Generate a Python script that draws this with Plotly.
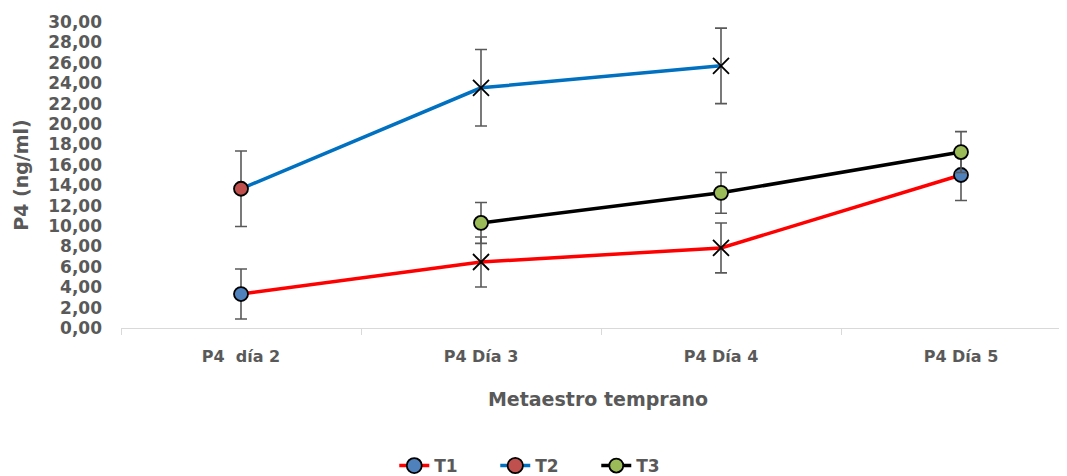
import plotly.graph_objects as go

categories = ["P4  día 2", "P4 Día 3", "P4 Día 4", "P4 Día 5"]

t1_x = categories
t1_y = [3.33, 6.47, 7.85, 15.0]
t1_err = [2.45, 2.45, 2.45, 2.5]
t1_sym = ["circle", "x-thin", "x-thin", "circle"]

t2_x = categories[:3]
t2_y = [13.65, 23.55, 25.7]
t2_err = [3.7, 3.75, 3.7]
t2_sym = ["circle", "x-thin", "x-thin"]

t3_x = categories[1:]
t3_y = [10.3, 13.25, 17.25]
t3_err = [2.0, 2.0, 2.0]
t3_sym = ["circle", "circle", "circle"]

FONT = "DejaVu Sans"
GRAY = "#595959"

fig = go.Figure()

def add(name, x, y, err, syms, line_color, fill):
    fig.add_trace(go.Scatter(
        x=x, y=y, name=name, mode="lines+markers",
        line=dict(color=line_color, width=3.5),
        marker=dict(symbol=syms, size=[14 if s == "circle" else 16 for s in syms],
                    color=fill, opacity=1, line=dict(color="black", width=1.8)),
        error_y=dict(type="data", array=err, visible=True,
                     color=GRAY, thickness=1.6, width=6),
    ))

add("T1", t1_x, t1_y, t1_err, t1_sym, "#FF0000", "#4F81BD")
add("T2", t2_x, t2_y, t2_err, t2_sym, "#0070C0", "#C0504D")
add("T3", t3_x, t3_y, t3_err, t3_sym, "#000000", "#9BBB59")

fig.update_layout(
    width=1067, height=476,
    margin=dict(l=113, r=0, t=14, b=156),
    paper_bgcolor="white", plot_bgcolor="white",
    separators=",.",
    font=dict(family=FONT, color=GRAY),
    showlegend=True,
    legend=dict(orientation="h", xref="container", yref="container",
                x=0.504, y=-0.008, xanchor="center", yanchor="bottom",
                font=dict(family=FONT, size=17, color=GRAY, weight="bold"),
                entrywidth=56, entrywidthmode="pixels",
                traceorder="normal"),
    xaxis=dict(
        type="category", categoryorder="array", categoryarray=categories,
        range=[-0.5, 3.475],
        showline=True, linecolor="#D9D9D9", linewidth=1,
        ticks="outside", tickson="boundaries", ticklen=6, tickcolor="#D9D9D9",
        ticklabelstandoff=14,
        showgrid=False, zeroline=False,
        tickfont=dict(family=FONT, size=16, color=GRAY, weight="bold"),
        title=dict(text="Metaestro temprano", standoff=27,
                   font=dict(family=FONT, size=19, color=GRAY, weight="bold")),
    ),
    yaxis=dict(
        range=[0, 30], dtick=2, tickformat=".2f",
        showline=False, showgrid=False, zeroline=False, ticks="",
        ticklabelstandoff=18,
        tickfont=dict(family=FONT, size=17, color=GRAY, weight="bold"),
        title=dict(text="P4 (ng/ml)", standoff=14,
                   font=dict(family=FONT, size=19, color=GRAY, weight="bold")),
    ),
)

fig.write_html("out.html")
